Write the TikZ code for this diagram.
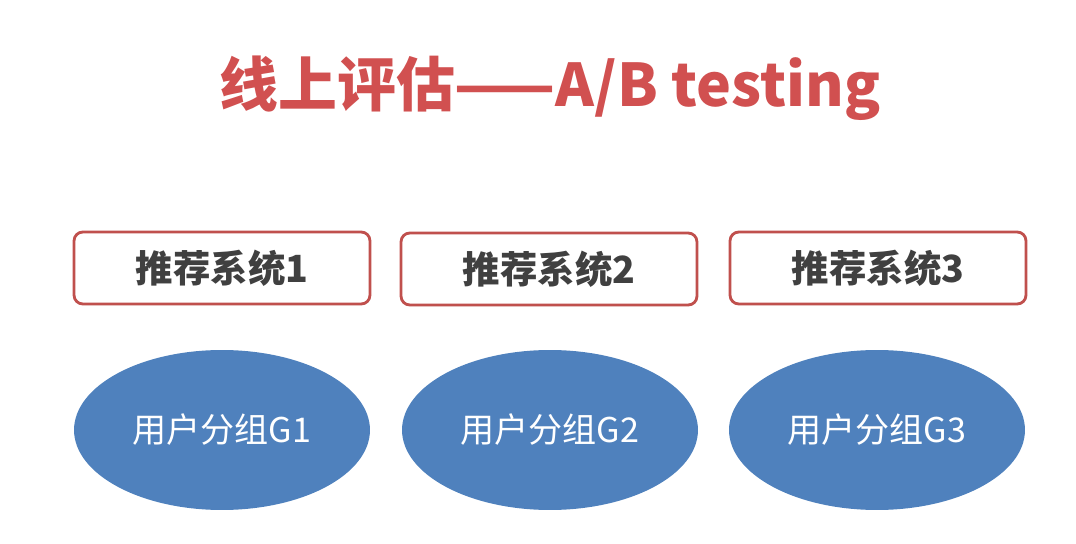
\documentclass[tikz,border=0pt]{standalone}
\usepackage{fontspec}
\setmainfont{Noto Sans CJK SC}
\usetikzlibrary{shapes.geometric,shadows}
\definecolor{titlered}{RGB}{209,80,80}
\definecolor{boxred}{RGB}{192,80,77}
\definecolor{ellblue}{RGB}{79,129,189}
\definecolor{txtgray}{RGB}{64,64,64}
\tikzset{
  sysbox/.style={draw=boxred, line width=1.6pt, rounded corners=5pt, fill=white,
    minimum width=5.92cm, minimum height=1.44cm, inner sep=0pt,
    drop shadow={shadow xshift=0.3pt, shadow yshift=-0.6pt, opacity=0.25},
    font=\fontsize{21.3pt}{25pt}\selectfont\bfseries, text=txtgray},
  grp/.style={ellipse, fill=ellblue, draw=none, minimum width=5.92cm, minimum height=3.2cm,
    inner sep=0pt, font=\fontsize{19.4pt}{23pt}\selectfont, text=white},
  ttl/.style={font=\fontsize{33.5pt}{40pt}\selectfont\bfseries, text=titlered}
}
\begin{document}
\begin{tikzpicture}[x=0.02cm,y=-0.02cm]
\useasboundingbox (0,0) rectangle (1076,544);
\node[ttl] (title) at (550,88) {线上评估——A/B testing};
\node[sysbox] (s1) at (222,268) {推荐系统1};
\node[sysbox] (s2) at (549,269) {推荐系统2};
\node[sysbox] (s3) at (878,268) {推荐系统3};
\node[grp] (g1) at (222,430) {用户分组G1};
\node[grp] (g2) at (550,430) {用户分组G2};
\node[grp] (g3) at (877,430) {用户分组G3};
\end{tikzpicture}
\end{document}
